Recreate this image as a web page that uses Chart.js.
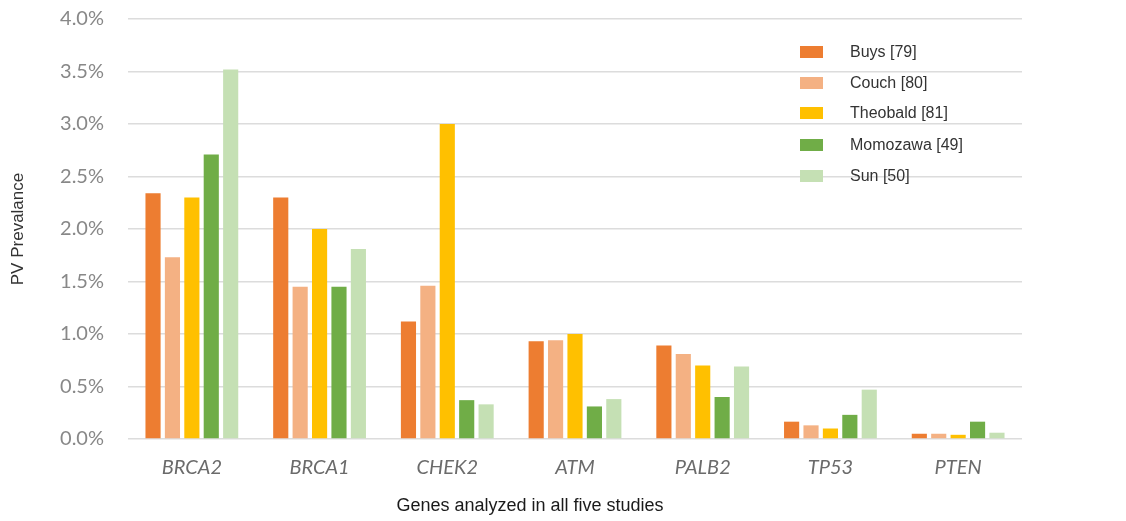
<!DOCTYPE html>
<html>
<head>
<meta charset="utf-8">
<script src="https://cdn.jsdelivr.net/npm/chart.js@4/dist/chart.umd.min.js"></script>
<style>
  html, body { margin: 0; padding: 0; background: #fff; }
  #wrap { width: 1126px; height: 521px; position: relative; }
</style>
</head>
<body>
<div id="wrap"><canvas id="c" width="1126" height="521"></canvas></div>
<script>
const genes = ['BRCA2', 'BRCA1', 'CHEK2', 'ATM', 'PALB2', 'TP53', 'PTEN'];
const seriesNames = ['Buys [79]', 'Couch [80]', 'Theobald [81]', 'Momozawa [49]', 'Sun [50]'];
const buys     = [2.34, 2.30, 1.12, 0.93, 0.89, 0.165, 0.05];
const couch    = [1.73, 1.45, 1.46, 0.94, 0.81, 0.13, 0.05];
const theobald = [2.30, 2.00, 3.00, 1.00, 0.70, 0.10, 0.04];
const momozawa = [2.71, 1.45, 0.37, 0.31, 0.40, 0.23, 0.165];
const sun      = [3.52, 1.81, 0.33, 0.38, 0.69, 0.47, 0.06];
const yTicks = [0, 0.5, 1.0, 1.5, 2.0, 2.5, 3.0, 3.5, 4.0];
const colors = ['#ED7D31', '#F4B183', '#FFC000', '#70AD47', '#C5E0B4'];
const xTitle = 'Genes analyzed in all five studies';
const yTitle = 'PV Prevalance';

const allSeries = [buys, couch, theobald, momozawa, sun];

const insideLegend = {
  id: 'insideLegend',
  afterDatasetsDraw(chart) {
    const ctx = chart.ctx;
    ctx.save();
    const rowY = [52, 83, 113, 145, 176];
    chart.data.datasets.forEach((ds, i) => {
      ctx.fillStyle = ds.backgroundColor;
      ctx.fillRect(800, rowY[i] - 6, 23, 12);
      ctx.fillStyle = '#333';
      ctx.font = '16px "Liberation Sans", Arial, sans-serif';
      ctx.textBaseline = 'middle';
      ctx.textAlign = 'left';
      ctx.fillText(ds.label, 850, rowY[i] + 1);
    });
    // x axis title
    ctx.fillStyle = '#1a1a1a';
    ctx.font = '18px "Liberation Sans", Arial, sans-serif';
    ctx.textAlign = 'center';
    ctx.textBaseline = 'middle';
    ctx.fillText(xTitle, 530, 506);
    ctx.restore();
  }
};

new Chart(document.getElementById('c'), {
  type: 'bar',
  data: {
    labels: genes,
    datasets: allSeries.map((vals, i) => ({
      label: seriesNames[i],
      data: vals,
      backgroundColor: colors[i],
      borderWidth: 0,
      barPercentage: 0.78,
      categoryPercentage: 0.76
    }))
  },
  options: {
    responsive: false,
    animation: false,
    layout: { padding: { top: 19, right: 104, left: 0, bottom: 0 } },
    plugins: {
      legend: { display: false },
      tooltip: { enabled: false }
    },
    scales: {
      x: {
        grid: { display: false, drawTicks: false },
        border: { display: false },
        ticks: {
          color: '#6b6b6b',
          padding: 17,
          font: { family: 'Lato', size: 20, style: 'italic' }
        },
        afterFit(scale) { scale.height = 82; }
      },
      y: {
        min: 0,
        max: 4.0,
        afterBuildTicks(scale) { scale.ticks = yTicks.map(v => ({ value: v })); },
        grid: { color: '#dcdcdc', lineWidth: 1.5, drawTicks: true, tickLength: 24, tickColor: 'rgba(0,0,0,0)' },
        border: { display: false },
        ticks: {
          color: '#888',
          padding: 0,
          font: { family: 'Lato', size: 20 },
          callback: v => v.toFixed(1) + '%'
        },
        title: {
          display: true,
          text: yTitle,
          color: '#333',
          padding: { top: 8, bottom: 0 },
          font: { family: '"Liberation Sans", Arial, sans-serif', size: 17 }
        },
        afterFit(scale) { scale.width = 128; }
      }
    }
  },
  plugins: [insideLegend]
});
</script>
</body>
</html>
